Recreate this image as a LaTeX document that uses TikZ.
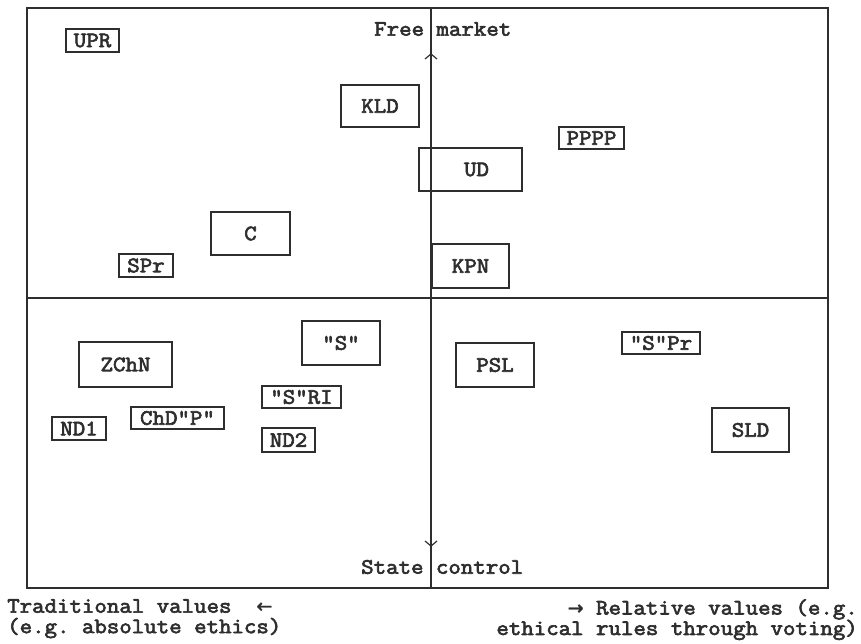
\documentclass[tikz,border=0pt]{standalone}
\usepackage{fontspec}
\newfontfamily\tw[FakeBold=3,FakeStretch=1.1]{Latin Modern Mono}
\newfontfamily\arrowfont[FakeBold=1.5]{DejaVu Sans}
\definecolor{ink}{rgb}{0.18,0.18,0.18}
\frenchspacing
\begin{document}
\begin{tikzpicture}[x=1pt,y=-1pt,
  every node/.style={text=ink,font=\tw\frenchspacing\fontsize{22}{20.5}\selectfont},
  pbox/.style={draw=ink,line width=1.3pt,inner sep=0pt,anchor=center},
  frameline/.style={draw=ink,line width=1.4pt}]
\useasboundingbox (0,0) rectangle (861,643);
% frame and axes
\coordinate (tl) at (27,8);
\coordinate (br) at (828,588);
\coordinate (ml) at (27,298);
\coordinate (mr) at (828,298);
\coordinate (vt) at (431,8);
\coordinate (vb) at (431,588);
\draw[frameline] (tl) rectangle (br);
\draw[frameline] (ml) -- (mr);
\draw[frameline] (vt) -- (vb);
\draw[draw=ink,line width=1.2pt] (425,59) -- (431,54) -- (437,59);
\draw[draw=ink,line width=1.2pt] (425,541) -- (431,546) -- (437,541);
% axis labels
\node[anchor=west,inner sep=0pt] (fm) at (374,29) {Free market};
\node[anchor=west,inner sep=0pt] (sc) at (361,567) {State control};
% party boxes
\node[pbox,minimum width=53pt,minimum height=23pt] (upr) at (92.5,40.5) {UPR};
\node[pbox,minimum width=78pt,minimum height=42pt] (kld) at (380,106) {KLD};
\node[pbox,minimum width=79pt,minimum height=43pt] (c) at (250.5,233.5) {C};
\node[pbox,minimum width=54pt,minimum height=23pt] (spr) at (146,265.5) {SPr};
\node[pbox,minimum width=103pt,minimum height=43pt,text width=103pt,align=center] (ud) at (470.5,169.5) {\hspace*{12pt}UD};
\node[pbox,minimum width=77pt,minimum height=44pt] (kpn) at (470.5,266) {KPN};
\node[pbox,minimum width=65pt,minimum height=22pt] (pppp) at (591.5,138) {PPPP};
\node[pbox,minimum width=78pt,minimum height=44pt] (s) at (341,343) {"S"};
\node[pbox,minimum width=93pt,minimum height=45pt] (zchn) at (125.5,364.5) {ZChN};
\node[pbox,minimum width=79pt,minimum height=22pt] (sri) at (301.5,397) {"S"RI};
\node[pbox,minimum width=93pt,minimum height=22pt] (chdp) at (177.5,418) {ChD"P"};
\node[pbox,minimum width=54pt,minimum height=23pt] (nd1) at (79,428.5) {ND1};
\node[pbox,minimum width=53pt,minimum height=24pt] (nd2) at (288.5,440) {ND2};
\node[pbox,minimum width=78pt,minimum height=44pt] (psl) at (495,365) {PSL};
\node[pbox,minimum width=78pt,minimum height=22pt] (spr2) at (661,343) {"S"Pr};
\node[pbox,minimum width=77pt,minimum height=44pt] (sld) at (750.5,430) {SLD};
% bottom captions
\node[anchor=north west,align=left,inner sep=0pt] (trad) at (7,599)
  {Traditional values~~{\arrowfont\fontsize{19}{16}\selectfont ←}\\(e.g. absolute ethics)};
\node[anchor=north east,align=right,inner sep=0pt] (rel) at (858,599)
  {{\arrowfont\fontsize{19}{16}\selectfont →} Relative values (e.g.\\ethical rules through voting)};
\end{tikzpicture}
\end{document}
